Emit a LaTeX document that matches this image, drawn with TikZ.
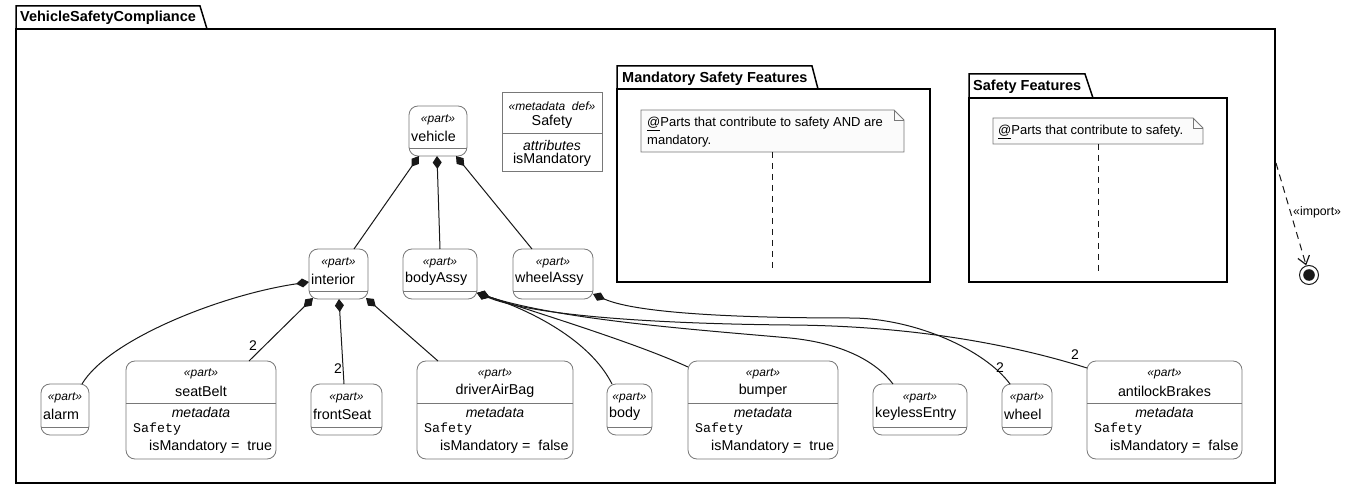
\documentclass[tikz,border=0pt]{standalone}
\usepackage{fontspec}
\setmainfont{Liberation Sans}
\setmonofont{Liberation Mono}
\usetikzlibrary{calc,arrows.meta}
\definecolor{boxc}{RGB}{120,120,120}
\definecolor{linec}{RGB}{24,24,24}
\definecolor{notef}{RGB}{251,251,251}
\tikzset{
 pbox/.style={draw=boxc, line width=0.8pt, rounded corners=9pt, fill=white, inner sep=0pt, outer sep=0pt, anchor=north west},
 mbox/.style={draw=boxc, line width=0.8pt, fill=white, inner sep=0pt, outer sep=0pt, anchor=north west},
 divl/.style={draw=boxc, line width=0.8pt},
 stereo/.style={inner sep=0pt, font=\fontsize{12}{14}\selectfont\itshape},
 nm/.style={inner sep=0pt, font=\fontsize{14.3}{16}\selectfont},
 itl/.style={inner sep=0pt, font=\fontsize{14}{16}\selectfont\itshape},
 mono/.style={inner sep=0pt, anchor=west, font=\fontsize{13.3}{15}\selectfont\ttfamily},
 pkg/.style={draw=black, line width=1.5pt},
 pkgt/.style={inner sep=0pt, anchor=west, font=\fontsize{14.5}{16}\selectfont\bfseries},
 comp/.style={draw=linec, line width=1pt, arrows={Diamond[length=13pt,width=9pt]-}},
 mult/.style={inner sep=0pt, font=\fontsize{14}{16}\selectfont},
 notebox/.style={inner sep=0pt, outer sep=0pt, anchor=north west},
 notet/.style={inner sep=0pt, anchor=west, font=\fontsize{13}{15}\selectfont},
 notel/.style={draw=linec, line width=1pt, dash pattern=on 6pt off 5pt},
}
\newcommand\smallpart[6]{%
  \node[pbox, minimum width={#4-#2}, minimum height={#5-#3}] (#1) at (#2,#3) {};
  \draw[divl] ($(#1.south west)+(0,-8)$) -- ($(#1.south east)+(0,-8)$);
  \node[stereo] (#1-st) at ($(#1.north)+(0,14)$) {«part»};
  \node[nm, anchor=west] (#1-nm) at ($(#1.north west)+(2,30)$) {#6};
}
\newcommand\bigpart[7]{%
  \node[pbox, minimum width={#4-#2}, minimum height={#5-#3}] (#1) at (#2,#3) {};
  \draw[divl] ($(#1.north west)+(0,42)$) -- ($(#1.north east)+(0,42)$);
  \node[stereo] (#1-st) at ($(#1.north)+(0,13)$) {«part»};
  \node[nm] (#1-nm) at ($(#1.north)+(0,30)$) {#6};
  \node[itl] (#1-md) at ($(#1.north)+(0,51)$) {metadata};
  \node[mono] (#1-sf) at ($(#1.north west)+(7,68)$) {Safety};
  \node[nm, anchor=west] (#1-im) at ($(#1.north west)+(23,86)$) {isMandatory =\ \ #7};
}
\begin{document}
\begin{tikzpicture}[x=1pt,y=-1pt]
\useasboundingbox (0,0) rectangle (1350,489);
\fill[white] (0,0) rectangle (1350,489);

% outer package
\draw[pkg] (16,29) rectangle (1275,483);
\draw[pkg] (16,29) -- (16,6) -- (200,6) -- (207,29);
\node[pkgt] (pkgVSC) at (20,18) {VehicleSafetyCompliance};

% Mandatory Safety Features
\draw[pkg] (617,89) rectangle (930,282);
\draw[pkg] (617,89) -- (617,66) -- (812,66) -- (818,89);
\node[pkgt] (pkgMSF) at (622,79) {Mandatory Safety Features};
\node[notebox, minimum width=263, minimum height=42] (mnote) at (641,110) {};
\filldraw[fill=notef, draw=boxc, line width=0.8pt] (mnote.north west) -- ($(mnote.north east)+(-10,0)$) -- ($(mnote.north east)+(0,10)$) -- (mnote.south east) -- (mnote.south west) -- cycle;
\draw[boxc, line width=0.8pt] ($(mnote.north east)+(-10,0)$) -- ($(mnote.north east)+(-10,10)$) -- ($(mnote.north east)+(0,10)$);
\node[notet] (mnote-t1) at (647,124) {\underline{@}Parts that contribute to safety AND are};
\node[notet] (mnote-t2) at (647,141) {mandatory.};
\coordinate (mnote-end) at (772.5,272);
\draw[notel] (mnote.south) -- (mnote-end);

% Safety Features
\draw[pkg] (969,98) rectangle (1227,282);
\draw[pkg] (969,98) -- (969,74) -- (1085,74) -- (1093,98);
\node[pkgt] (pkgSF) at (973,87) {Safety Features};
\node[notebox, minimum width=210, minimum height=26] (snote) at (993,118) {};
\filldraw[fill=notef, draw=boxc, line width=0.8pt] (snote.north west) -- ($(snote.north east)+(-10,0)$) -- ($(snote.north east)+(0,10)$) -- (snote.south east) -- (snote.south west) -- cycle;
\draw[boxc, line width=0.8pt] ($(snote.north east)+(-10,0)$) -- ($(snote.north east)+(-10,10)$) -- ($(snote.north east)+(0,10)$);
\node[notet] (snote-t1) at (998,132) {\underline{@}Parts that contribute to safety.};
\coordinate (snote-end) at (1098,273);
\draw[notel] (snote.south) -- (snote-end);

% import
\coordinate (impstart) at (1276,163);
\node[circle, draw=linec, line width=1pt, fill=white, minimum size=19pt, inner sep=0pt] (endc) at (1309,275) {};
\fill[linec] (endc.center) circle (5.8);
\draw[linec, line width=1pt, dash pattern=on 7pt off 5pt, -{Straight Barb[length=8pt,width=12pt,line width=1.2pt]}] (impstart) -- (endc);
\node[inner sep=0pt, anchor=west, font=\fontsize{12.3}{14}\selectfont] (implbl) at (1293,212) {«import»};

% metadata def
\node[mbox, minimum width=100, minimum height=79] (safety) at (502,92) {};
\draw[divl] ($(safety.north west)+(0,41)$) -- ($(safety.north east)+(0,41)$);
\node[stereo] (safety-st) at ($(safety.north)+(0,14)$) {«metadata~~def»};
\node[nm] (safety-nm) at ($(safety.north)+(0,30)$) {Safety};
\node[itl] (safety-at) at ($(safety.north)+(0,53)$) {attributes};
\node[nm] (safety-im) at ($(safety.north)+(0,68)$) {isMandatory};

% parts
\smallpart{vehicle}{409}{106}{467}{156}{vehicle}
\smallpart{interior}{309}{249}{368}{299}{interior}
\smallpart{bodyAssy}{403}{249}{477}{299}{bodyAssy}
\smallpart{wheelAssy}{513}{249}{593}{299}{wheelAssy}
\smallpart{alarm}{41}{384}{89}{435}{alarm}
\smallpart{frontSeat}{311}{384}{382}{435}{frontSeat}
\smallpart{body}{607}{384}{652}{435}{body}
\smallpart{keylessEntry}{873}{384}{967}{435}{keylessEntry}
\smallpart{wheel}{1002}{384}{1052}{435}{wheel}
\bigpart{seatBelt}{126}{361}{276}{459}{seatBelt}{true}
\bigpart{driverAirBag}{417}{361}{573}{459}{driverAirBag}{false}
\bigpart{bumper}{688}{361}{838}{459}{bumper}{true}
\bigpart{antilockBrakes}{1087}{361}{1242}{459}{antilockBrakes}{false}

% vehicle compositions
\draw[comp] ($(vehicle.south)+(-19,0)$) -- ($(interior.north)+(15.5,0)$);
\draw[comp] ($(vehicle.south)+(-1,0)$) -- (bodyAssy.north);
\draw[comp] ($(vehicle.south)+(18,0)$) -- ($(wheelAssy.north)+(-21,0)$);

% interior compositions
\draw[comp] ($(interior.west)+(0,8)$) .. controls (220,295) and (108,340) .. ($(alarm.north)+(17,0)$);
\draw[comp] ($(interior.south west)+(4,-1)$) -- ($(seatBelt.north)+(48,0)$);
\node[mult] (m-seat) at (253,346) {2};
\draw[comp] ($(interior.south)+(0.5,0)$) -- ($(frontSeat.north)+(-2.5,0)$);
\node[mult] (m-front) at (338,369) {2};
\draw[comp] ($(interior.south east)+(-2,-1)$) -- ($(driverAirBag.north west)+(21,0)$);

% bodyAssy compositions
\draw[comp] ($(bodyAssy.south east)+(0,-6)$) .. controls (530,310) and (590,340) .. ($(body.north)+(-17.5,0)$);
\draw[comp] ($(bodyAssy.south east)+(0,-6)$) .. controls (560,320) and (640,345) .. ($(bumper.north west)+(0,6)$);
\draw[comp] ($(bodyAssy.south east)+(0,-6)$) .. controls (560,320) and (700,330) .. (790,338) .. controls (840,343) and (875,360) .. ($(keylessEntry.north)+(-27,0)$);
\draw[comp] ($(bodyAssy.south east)+(0,-6)$) .. controls (540,318) and (680,324) .. (790,325) .. controls (930,326) and (1030,350) .. ($(antilockBrakes.north west)+(0,7)$);
\node[mult] (m-abs) at (1075,355) {2};

% wheelAssy composition
\draw[comp] ($(wheelAssy.south east)+(0,-5)$) .. controls (640,315) and (760,318) .. (850,318) .. controls (915,318) and (985,350) .. ($(wheel.north)+(-17,0)$);
\node[mult] (m-wheel) at (1000,368) {2};
\end{tikzpicture}
\end{document}
